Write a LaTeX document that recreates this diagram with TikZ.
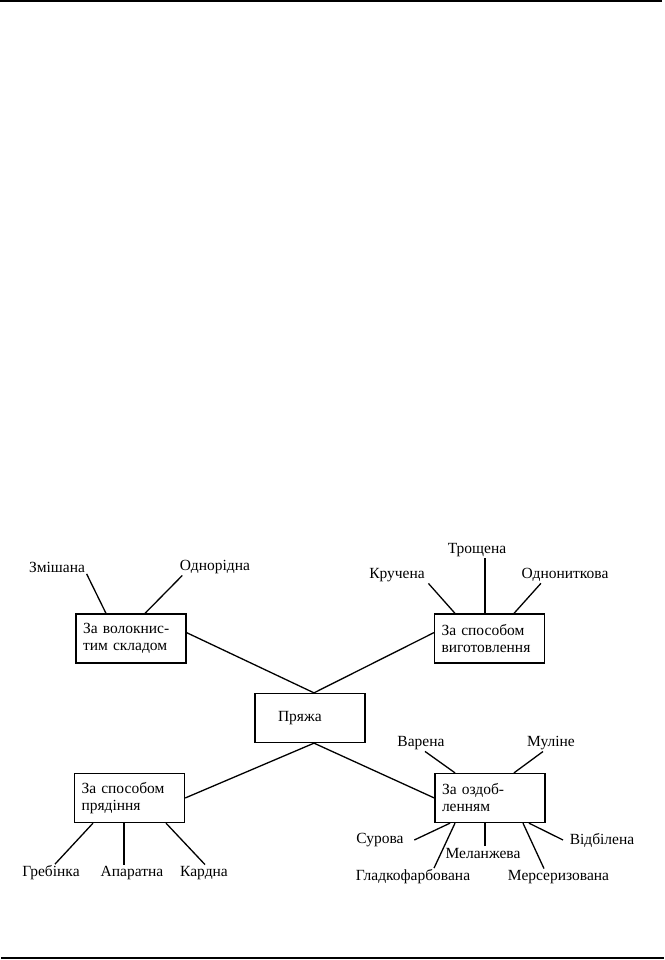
\documentclass[tikz,border=0pt]{standalone}
\usepackage{fontspec}
\setmainfont{Liberation Serif}
\begin{document}
\begin{tikzpicture}[x=1pt,y=-1pt,
  every node/.style={font=\fontsize{15.5}{17}\selectfont},
  box/.style={draw, line width=1.3pt, minimum height=49pt, text width=96pt, inner xsep=7pt, align=left},
  leaf/.style={inner sep=1.5pt},
  link/.style={line width=1.3pt},
  rule/.style={line width=2pt}]

\useasboundingbox (0,0) rectangle (664,960);

% Page rules
\draw[rule] (0,1) -- (662,1);
\draw[rule] (1,958) -- (664,958);

% Central node and the four groups
\node[box, text width=64pt, inner xsep=23pt] (yarn) at (310,718) {Пряжа};
\node[box] (fibre) at (131,638.5) {За волокнис-\\тим складом};
\node[box] (make) at (489.5,638.5) {За способом\\виготовлення};
\node[box] (spin) at (129.5,798) {За способом\\прядіння};
\node[box] (finish) at (490,798) {За оздоб-\\ленням};

\draw[link] (fibre.6) -- ([xshift=4pt]yarn.north);
\draw[link] (make.174) -- ([xshift=4pt]yarn.north);
\draw[link] (spin.east) -- ([xshift=4pt]yarn.south);
\draw[link] (finish.west) -- ([xshift=4pt]yarn.south);

% Leaves of the fibre group
\node[leaf] (mixed) at (57,567) {Змішана};
\node[leaf] (uniform) at (215,567) {Однорідна};
\draw[link] (mixed.south east) -- ([xshift=-25pt]fibre.north);
\draw[link] ([xshift=4pt]uniform.south west) -- ([xshift=14pt]fibre.north);

% Leaves of the making group
\node[leaf] (folded) at (477,550) {Трощена};
\node[leaf] (twisted) at (397,575) {Кручена};
\node[leaf] (single) at (565,575) {Однониткова};
\draw[link] ([xshift=8pt]folded.south) -- ([xshift=-4.5pt]make.north);
\draw[link] ([xshift=2pt]twisted.south east) -- ([xshift=-34.5pt]make.north);
\draw[link] ([xshift=21pt]single.south west) -- ([xshift=24.5pt]make.north);

% Leaves of the spinning group
\node[leaf] (combed) at (51,873) {Гребінка};
\node[leaf] (apparatus) at (132,873) {Апаратна};
\node[leaf] (carded) at (204,873) {Кардна};
\draw[link] ([xshift=4pt]combed.north) -- ([xshift=-36.5pt]spin.south);
\draw[link] ([xshift=-8pt]apparatus.north) -- ([xshift=-5.5pt]spin.south);
\draw[link] ([xshift=1pt]carded.north) -- ([xshift=36.5pt]spin.south);

% Leaves of the finishing group
\node[leaf] (boiled) at (421,743) {Варена};
\node[leaf] (mouline) at (551,743) {Муліне};
\node[leaf] (raw) at (380,840) {Сурова};
\node[leaf] (plain) at (413,877) {Гладкофарбована};
\node[leaf] (melange) at (483,853) {Меланжева};
\node[leaf] (mercer) at (558.5,877) {Мерсеризована};
\node[leaf] (bleached) at (602,840) {Відбілена};
\draw[link] ([xshift=4pt]boiled.south) -- ([xshift=-35pt]finish.north);
\draw[link] ([xshift=-8pt]mouline.south) -- ([xshift=24pt]finish.north);
\draw[link] ([xshift=9pt]raw.east) -- ([xshift=-40pt]finish.south);
\draw[link] ([xshift=21pt]plain.north) -- ([xshift=-35pt]finish.south);
\draw[link] ([xshift=2pt]melange.north) -- ([xshift=-5pt]finish.south);
\draw[link] ([xshift=-14.5pt]mercer.north) -- ([xshift=33pt]finish.south);
\draw[link] ([xshift=-5pt]bleached.west) -- ([xshift=39pt]finish.south);

\end{tikzpicture}
\end{document}
